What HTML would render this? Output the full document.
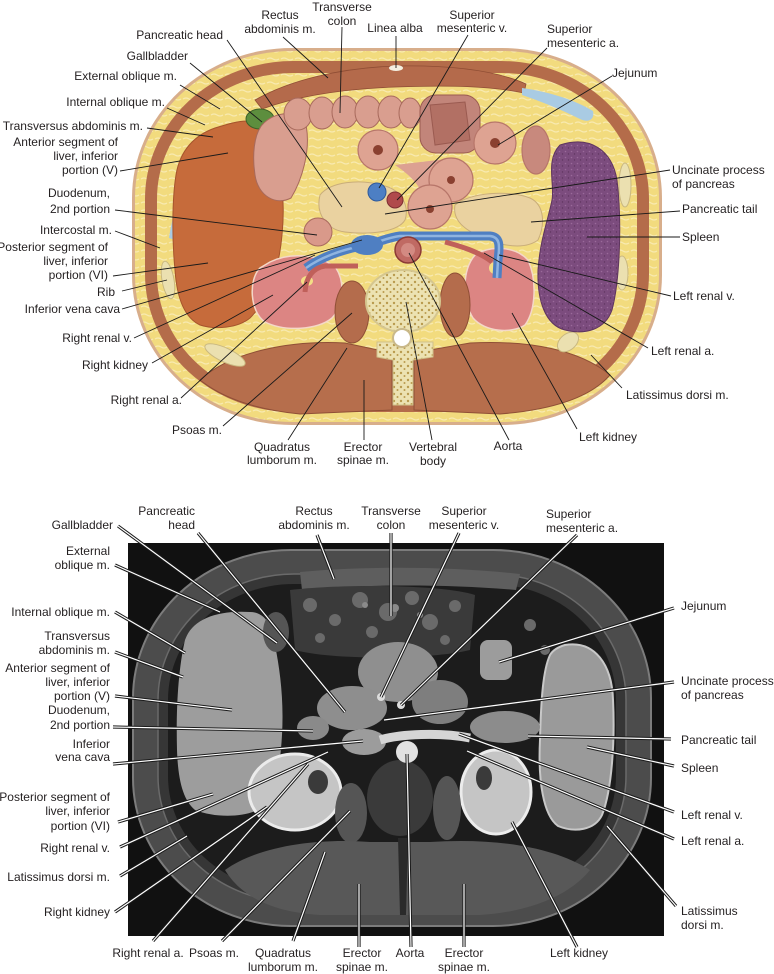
<!DOCTYPE html>
<html><head><meta charset="utf-8"><style>
html,body{margin:0;padding:0;background:#fff;}
svg{display:block;}
text{font-family:"Liberation Sans",sans-serif;font-size:12px;fill:#231f20;}
</style></head><body>
<svg width="774" height="974" viewBox="0 0 774 974" xmlns="http://www.w3.org/2000/svg">
<defs>
<pattern id="bone" width="7" height="7" patternUnits="userSpaceOnUse">
<rect width="7" height="7" fill="#ece2b2"/><circle cx="2" cy="2" r="1.2" fill="#b99b4e"/><circle cx="5.5" cy="5" r="1" fill="#b99b4e"/>
</pattern>
<pattern id="spl" width="6" height="6" patternUnits="userSpaceOnUse">
<rect width="6" height="6" fill="#7c4c7e"/><circle cx="1.5" cy="1.5" r="0.8" fill="#9a6a9a"/><circle cx="4.5" cy="4" r="0.7" fill="#5f3560"/>
</pattern>
<pattern id="fat" width="14" height="8" patternUnits="userSpaceOnUse">
<rect width="14" height="8" fill="#f2db7e"/><path d="M1 3 Q4 1 7 3 T13 3" stroke="#f8eab0" stroke-width="1.2" fill="none"/>
</pattern>
</defs>

<!-- ============ TOP ILLUSTRATION ============ -->
<rect x="132" y="48" width="530" height="377" rx="160" ry="150" fill="#d8ae8b"/>
<rect x="135" y="51" width="524" height="371" rx="157" ry="147" fill="url(#fat)"/>
<rect x="151" y="67" width="492" height="339" rx="142" ry="132" fill="none" stroke="#b46c4a" stroke-width="12"/>
<rect x="158" y="74" width="478" height="325" rx="135" ry="125" fill="url(#fat)"/>

<!-- rectus -->
<path d="M255,100 C290,80 340,68 396,66 C450,65 495,70 526,84 L524,93 C490,86 450,85 396,87 C340,89 295,97 262,109 Z" fill="#b46a4b" stroke="#8f4d34" stroke-width="0.8"/>
<ellipse cx="396" cy="68" rx="7" ry="3" fill="#f4efe0"/>
<!-- blue fluid -->
<path d="M212,136 C195,150 178,185 169,238 L175,240 C184,195 199,160 217,140 Z" fill="#a9cbe3"/>
<path d="M522,88 C550,92 575,100 593,111 C595,120 588,123 580,119 C560,109 540,101 522,95 Z" fill="#a9cbe3"/>

<!-- liver -->
<path d="M247,121 C262,120 272,132 276,150 C282,175 285,205 282,235 C279,270 268,300 250,318 C238,328 215,330 200,325 C185,318 177,300 175,270 C172,240 172,200 176,175 C180,150 195,135 215,128 C228,124 238,121 247,121 Z" fill="#c66b3b" stroke="#a5542c" stroke-width="1"/>
<ellipse cx="260" cy="119" rx="14" ry="10" fill="#5d8e3e" stroke="#3d6128"/>

<!-- colon -->
<path d="M262,125 C275,110 300,110 306,125 C311,150 302,180 291,198 C276,206 258,196 255,175 C252,155 254,135 262,125 Z" fill="#d99e8f" stroke="#a86a5c"/>
<g fill="#d99e8f" stroke="#a86a5c" stroke-width="1">
<ellipse cx="298" cy="114" rx="14" ry="16"/>
<ellipse cx="322" cy="113" rx="13" ry="16"/>
<ellipse cx="345" cy="112" rx="13" ry="16"/>
<ellipse cx="368" cy="112" rx="13" ry="16"/>
<ellipse cx="391" cy="112" rx="13" ry="16"/>
<ellipse cx="410" cy="113" rx="11" ry="15"/>
</g>
<rect x="420" y="95" width="60" height="58" rx="16" fill="#c2857a" stroke="#9a5a50"/>
<path d="M430,105 L465,102 L470,140 L435,145 Z" fill="#b27064" stroke="#9a5a50"/>
<!-- mesentery -->
<path d="M395,165 C410,175 420,185 425,200 L440,205 C440,190 445,170 455,158 Z" fill="#dca192"/>
<!-- jejunum -->
<g stroke="#b7766a" stroke-width="1.2" fill="#dea392">
<circle cx="378" cy="150" r="20"/><circle cx="495" cy="143" r="21"/>
<ellipse cx="536" cy="150" rx="14" ry="24" fill="#c8897d"/>
<circle cx="451" cy="180" r="22"/><circle cx="430" cy="207" r="22"/>
</g>
<g fill="#8a4030"><circle cx="378" cy="150" r="5"/><circle cx="495" cy="143" r="5"/><circle cx="451" cy="180" r="4"/><circle cx="430" cy="209" r="4"/></g>

<!-- pancreas -->
<path d="M320,195 C330,182 360,178 385,186 C400,190 410,205 405,220 C398,232 370,235 345,232 C328,230 315,215 320,195 Z" fill="#ead2a0" stroke="#c9ad7a"/>
<path d="M455,205 C470,192 510,190 530,198 C545,205 545,225 538,240 C525,250 500,246 485,238 C468,232 452,222 455,205 Z" fill="#ead2a0" stroke="#c9ad7a"/>
<ellipse cx="318" cy="232" rx="14" ry="14" fill="#d9998a" stroke="#a96a5e"/>
<circle cx="377" cy="192" r="9" fill="#4d7fc4" stroke="#2f5a9a"/>
<circle cx="395" cy="200" r="8" fill="#b04a4c" stroke="#7e2f32"/>

<!-- kidneys -->
<path d="M270,262 C290,252 320,254 336,268 C345,282 344,305 332,318 C318,330 285,332 265,322 C250,312 248,280 260,268 Z" fill="#dc8583" stroke="#f4d8c8" stroke-width="1.5"/>
<ellipse cx="307" cy="281" rx="6" ry="5" fill="#f3de86"/>
<path d="M475,255 C490,245 515,246 528,260 C537,280 536,310 525,325 C512,334 485,332 473,318 C462,300 462,270 475,255 Z" fill="#dc8583" stroke="#f4d8c8" stroke-width="1.5"/>
<ellipse cx="495" cy="268" rx="6" ry="6" fill="#f3de86"/>

<!-- vessels -->
<path d="M306,268 C320,258 340,250 362,246 C375,244 385,238 400,236 L490,236 C500,237 500,245 498,260 L497,278" fill="none" stroke="#4f7fc2" stroke-width="9"/>
<path d="M306,268 C320,258 340,250 362,246 C375,244 385,238 400,236 L490,236 C500,237 500,245 498,260 L497,278" fill="none" stroke="#8fb4e0" stroke-width="2.5"/>
<ellipse cx="367" cy="245" rx="16" ry="10" fill="#4f7fc2"/>
<path d="M305,292 C306,278 312,268 325,266 L358,266" fill="none" stroke="#c0605a" stroke-width="5"/>
<path d="M445,242 C460,246 480,252 492,262" fill="none" stroke="#c0605a" stroke-width="5"/>
<circle cx="408" cy="250" r="13" fill="#c06a63" stroke="#8c3a36" stroke-width="1.5"/>
<circle cx="408" cy="250" r="7" fill="#d38a82"/>

<!-- psoas, back muscles -->
<ellipse cx="352" cy="312" rx="17" ry="31" fill="#b46c4c" stroke="#8f4f36"/>
<ellipse cx="455" cy="305" rx="15" ry="32" fill="#b46c4c" stroke="#8f4f36"/>
<path d="M200,380 C230,352 290,340 345,343 L378,350 L392,358 L392,410 L300,414 C260,410 225,400 200,380 Z" fill="#b66e4c" stroke="#8f4f36"/>
<path d="M414,358 L430,350 L470,343 C530,340 580,350 610,375 C590,398 550,410 500,414 L414,410 Z" fill="#b66e4c" stroke="#8f4f36"/>
<!-- vertebra -->
<path d="M377,342 L433,342 L433,357 L413,360 L413,405 L393,405 L393,360 L377,357 Z" fill="url(#bone)" stroke="#d0c08a"/>
<ellipse cx="403" cy="301" rx="37" ry="31" fill="url(#bone)" stroke="#d5c68f" stroke-width="2"/>
<circle cx="402" cy="338" r="9" fill="#fff" stroke="#c9b98a" stroke-width="2"/>
<!-- ribs -->
<g fill="#ebe0b0" stroke="#c9b880">
<ellipse cx="168" cy="280" rx="6" ry="19" transform="rotate(-10 168 280)"/>
<ellipse cx="225" cy="355" rx="22" ry="7" transform="rotate(25 225 355)"/>
<ellipse cx="625" cy="185" rx="6" ry="22"/>
<ellipse cx="622" cy="273" rx="6" ry="17"/>
<ellipse cx="568" cy="342" rx="12" ry="8" transform="rotate(-40 568 342)"/>
</g>
<!-- spleen -->
<path d="M560,145 C590,135 612,150 617,180 C622,220 620,280 612,310 C605,330 585,335 565,330 C545,325 537,300 538,270 C540,240 548,220 552,200 C555,185 545,160 560,145 Z" fill="url(#spl)" stroke="#5e355f"/>

<!-- top leaders -->
<g stroke="#1a1a1a" stroke-width="0.9" fill="none">
<path d="M227,40L342,207M283,37L328,78M342,27L340,113M396,36L396,68M468,35L379,188M547,48L397,200M612,76L498,145M670,170L385,214M680,211L531,222M680,237L587,237M671,296L499,255M648,348L484,253M622,388L591,355M577,429L512,313M509,440L409,253M432,440L406,302M364,440L364,380M288,440L347,348M223,426L352,313M181,398L307,282M152,363L273,295M134,338L315,255M122,309L362,240M122,291L167,280M113,276L208,263M115,231L160,248M115,210L317,235M120,171L228,153M147,128L213,137M167,108L205,125M180,85L220,109M190,63L262,122"/>
</g>

<!-- top labels -->
<g text-anchor="end">
<text x="223" y="39">Pancreatic head</text>
<text x="188" y="60">Gallbladder</text>
<text x="177" y="80">External oblique m.</text>
<text x="165" y="106">Internal oblique m.</text>
<text x="143" y="130">Transversus abdominis m.</text>
<text x="118" y="146">Anterior segment of</text>
<text x="118" y="160">liver, inferior</text>
<text x="118" y="174">portion (V)</text>
<text x="110" y="197">Duodenum,</text>
<text x="110" y="213">2nd portion</text>
<text x="112" y="234">Intercostal m.</text>
<text x="108" y="251">Posterior segment of</text>
<text x="108" y="265">liver, inferior</text>
<text x="108" y="279">portion (VI)</text>
<text x="115" y="296">Rib</text>
<text x="120" y="313">Inferior vena cava</text>
<text x="132" y="342">Right renal v.</text>
<text x="148" y="369">Right kidney</text>
<text x="182" y="404">Right renal a.</text>
<text x="222" y="434">Psoas m.</text>
</g>
<g text-anchor="middle">
<text x="280" y="19">Rectus</text><text x="280" y="33">abdominis m.</text>
<text x="342" y="11">Transverse</text><text x="342" y="25">colon</text>
<text x="395" y="32">Linea alba</text>
<text x="472" y="19">Superior</text><text x="472" y="32">mesenteric v.</text>
<text x="282" y="451">Quadratus</text><text x="282" y="464">lumborum m.</text>
<text x="363" y="451">Erector</text><text x="363" y="464">spinae m.</text>
<text x="433" y="451">Vertebral</text><text x="433" y="465">body</text>
<text x="508" y="450">Aorta</text>
</g>
<g>
<text x="547" y="33">Superior</text><text x="547" y="47">mesenteric a.</text>
<text x="612" y="77">Jejunum</text>
<text x="672" y="174">Uncinate process</text><text x="672" y="188">of pancreas</text>
<text x="682" y="213">Pancreatic tail</text>
<text x="682" y="241">Spleen</text>
<text x="673" y="300">Left renal v.</text>
<text x="651" y="355">Left renal a.</text>
<text x="626" y="399">Latissimus dorsi m.</text>
<text x="579" y="441">Left kidney</text>
</g>

<!-- ============ MRI ============ -->
<rect x="128" y="543" width="536" height="393" fill="#111"/>
<rect x="133" y="550" width="518" height="376" rx="158" ry="148" fill="#4c4c4c" stroke="#7c7c7c" stroke-width="2"/>
<rect x="158" y="574" width="468" height="328" rx="136" ry="126" fill="#363636" stroke="#6a6a6a" stroke-width="1.5"/>
<rect x="168" y="584" width="448" height="308" rx="126" ry="116" fill="#1c1c1c"/>
<path d="M300,572 C360,566 450,566 520,574 L516,590 C450,584 360,584 302,590 Z" fill="#5e5e5e"/>
<!-- bowel texture -->
<path d="M290,590 C340,584 440,584 475,595 L470,650 C430,660 330,660 295,650 Z" fill="#3a3a3a"/>
<g fill="#6a6a6a"><circle cx="310" cy="605" r="7"/><circle cx="335" cy="620" r="6"/><circle cx="360" cy="600" r="8"/><circle cx="388" cy="612" r="9"/><circle cx="412" cy="598" r="7"/><circle cx="430" cy="622" r="8"/><circle cx="455" cy="606" r="6"/><circle cx="320" cy="638" r="5"/><circle cx="372" cy="632" r="6"/><circle cx="445" cy="640" r="5"/><circle cx="530" cy="625" r="6"/><circle cx="545" cy="650" r="5"/></g>
<g fill="#8a8a8a"><circle cx="395" cy="608" r="4"/><circle cx="420" cy="615" r="3"/><circle cx="365" cy="605" r="3"/></g>
<!-- liver -->
<path d="M250,612 C265,612 272,625 275,645 C280,670 284,700 282,735 C280,770 275,795 262,808 C245,818 215,818 195,810 C183,800 178,780 177,750 C176,710 178,670 185,640 C192,620 215,610 250,612 Z" fill="#9d9d9d"/>
<ellipse cx="276" cy="632" rx="13" ry="20" fill="#555"/>
<!-- spleen -->
<path d="M565,645 C595,640 612,665 613,700 C615,740 612,790 602,815 C595,830 575,833 558,826 C543,815 538,780 540,740 C541,700 543,670 550,655 C553,650 558,647 565,645 Z" fill="#9a9a9a" stroke="#c8c8c8" stroke-width="2"/>
<!-- central organs -->
<ellipse cx="398" cy="672" rx="40" ry="30" fill="#8f8f8f"/>
<rect x="480" y="640" width="32" height="40" rx="8" fill="#9c9c9c"/>
<ellipse cx="440" cy="702" rx="28" ry="22" fill="#7e7e7e"/>
<ellipse cx="505" cy="727" rx="35" ry="16" fill="#8c8c8c"/>
<ellipse cx="352" cy="708" rx="35" ry="22" fill="#8e8e8e"/>
<ellipse cx="313" cy="728" rx="16" ry="12" fill="#8a8a8a"/>
<ellipse cx="364" cy="742" rx="22" ry="13" fill="#9c9c9c"/>
<path d="M380,740 C400,734 440,732 470,738" fill="none" stroke="#d5d5d5" stroke-width="9"/>
<circle cx="381" cy="697" r="4" fill="#ddd"/>
<circle cx="401" cy="705" r="4" fill="#ddd"/>
<!-- kidneys -->
<ellipse cx="295" cy="792" rx="46" ry="38" fill="#c5c5c5" stroke="#ececec" stroke-width="3"/>
<ellipse cx="318" cy="782" rx="10" ry="12" fill="#3a3a3a"/>
<ellipse cx="496" cy="792" rx="35" ry="42" fill="#c5c5c5" stroke="#ececec" stroke-width="3"/>
<ellipse cx="484" cy="778" rx="8" ry="12" fill="#3a3a3a"/>
<!-- psoas, back -->
<ellipse cx="351" cy="813" rx="16" ry="30" fill="#555"/>
<ellipse cx="447" cy="808" rx="14" ry="32" fill="#555"/>
<path d="M225,870 C260,845 320,838 370,842 L430,842 C490,838 550,845 590,870 C570,895 530,912 480,915 L320,915 C270,912 240,895 225,870 Z" fill="#585858"/>
<ellipse cx="400" cy="798" rx="33" ry="38" fill="#3a3a3a"/>
<path d="M398,838 L408,838 L406,915 L400,915 Z" fill="#2a2a2a"/>
<circle cx="407" cy="752" r="11" fill="#e2e2e2"/>

<!-- MRI leaders: double lines -->
<g fill="none" stroke-linecap="butt">
<path d="M118,526L277,643M198,533L345,712M317,535L334,579M391,533L391,616M459,533L381,697M577,535L401,705M674,608L499,662M674,682L384,720M671,739L528,736M674,766L587,747M674,812L459,734M674,839L467,751M676,906L607,826M577,947L512,822M464,947L464,884M411,947L407,754M359,947L359,884M293,941L325,852M222,941L350,811M153,941L308,764M115,912L267,807M120,876L187,836M120,847L328,752M118,822L213,794M113,764L363,741M113,727L313,731M115,696L232,710M115,652L183,677M115,612L185,653M115,565L220,612" stroke="#1a1a1a" stroke-width="3.2"/>
<path d="M118,526L277,643M198,533L345,712M317,535L334,579M391,533L391,616M459,533L381,697M577,535L401,705M674,608L499,662M674,682L384,720M671,739L528,736M674,766L587,747M674,812L459,734M674,839L467,751M676,906L607,826M577,947L512,822M464,947L464,884M411,947L407,754M359,947L359,884M293,941L325,852M222,941L350,811M153,941L308,764M115,912L267,807M120,876L187,836M120,847L328,752M118,822L213,794M113,764L363,741M113,727L313,731M115,696L232,710M115,652L183,677M115,612L185,653M115,565L220,612" stroke="#ffffff" stroke-width="1.2"/>
</g>

<!-- MRI labels -->
<g text-anchor="end">
<text x="113" y="529">Gallbladder</text>
<text x="195" y="515">Pancreatic</text><text x="195" y="529">head</text>
<text x="110" y="555">External</text><text x="110" y="569">oblique m.</text>
<text x="110" y="616">Internal oblique m.</text>
<text x="110" y="640">Transversus</text><text x="110" y="654">abdominis m.</text>
<text x="110" y="672">Anterior segment of</text><text x="110" y="686">liver, inferior</text><text x="110" y="700">portion (V)</text>
<text x="110" y="714">Duodenum,</text><text x="110" y="729">2nd portion</text>
<text x="110" y="748">Inferior</text><text x="110" y="761">vena cava</text>
<text x="110" y="801">Posterior segment of</text><text x="110" y="815">liver, inferior</text><text x="110" y="830">portion (VI)</text>
<text x="110" y="852">Right renal v.</text>
<text x="110" y="881">Latissimus dorsi m.</text>
<text x="110" y="916">Right kidney</text>
</g>
<g text-anchor="middle">
<text x="314" y="515">Rectus</text><text x="314" y="529">abdominis m.</text>
<text x="391" y="515">Transverse</text><text x="391" y="529">colon</text>
<text x="464" y="515">Superior</text><text x="464" y="529">mesenteric v.</text>
<text x="148" y="957">Right renal a.</text>
<text x="214" y="957">Psoas m.</text>
<text x="283" y="957">Quadratus</text><text x="283" y="971">lumborum m.</text>
<text x="362" y="957">Erector</text><text x="362" y="971">spinae m.</text>
<text x="410" y="957">Aorta</text>
<text x="464" y="957">Erector</text><text x="464" y="971">spinae m.</text>
<text x="579" y="957">Left kidney</text>
</g>
<g>
<text x="546" y="518">Superior</text><text x="546" y="532">mesenteric a.</text>
<text x="681" y="610">Jejunum</text>
<text x="681" y="685">Uncinate process</text><text x="681" y="699">of pancreas</text>
<text x="681" y="744">Pancreatic tail</text>
<text x="681" y="772">Spleen</text>
<text x="681" y="819">Left renal v.</text>
<text x="681" y="845">Left renal a.</text>
<text x="681" y="915">Latissimus</text><text x="681" y="929">dorsi m.</text>
</g>
</svg>
</body></html>
